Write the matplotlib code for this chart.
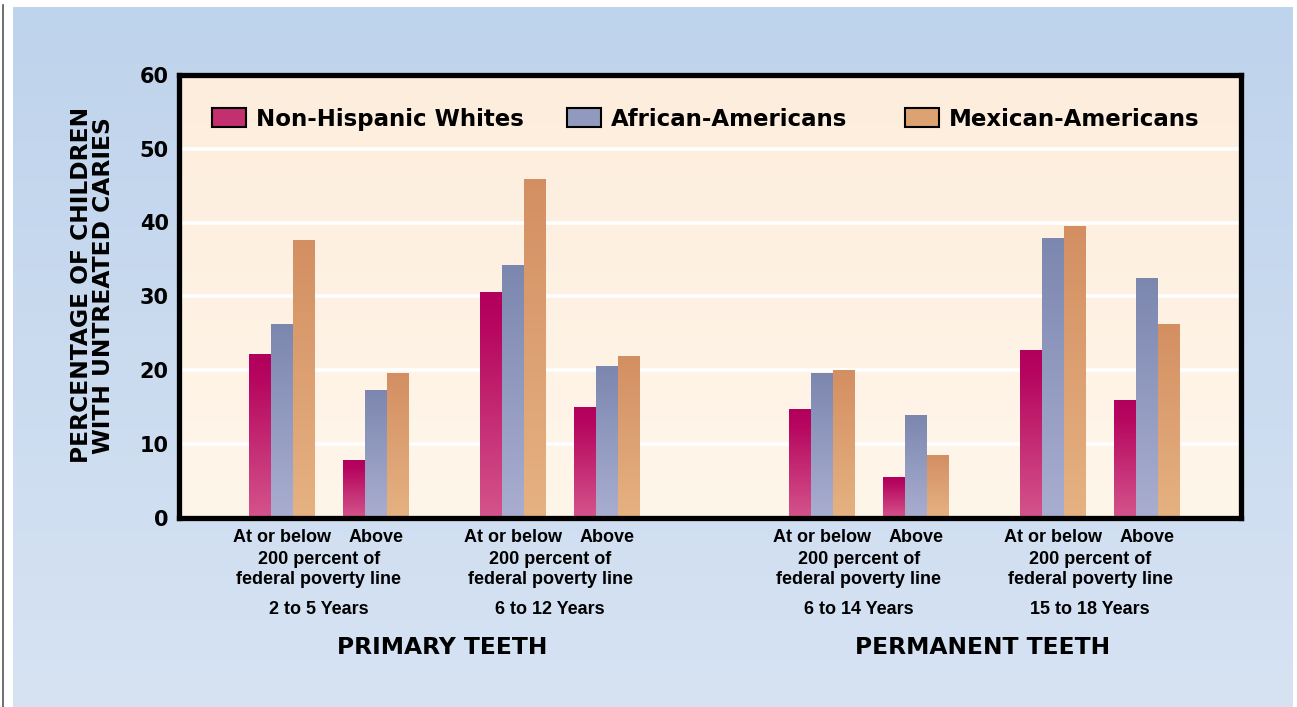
import numpy as np
import matplotlib.pyplot as plt
from matplotlib.colors import LinearSegmentedColormap
from matplotlib.patches import Rectangle
from matplotlib.lines import Line2D

W, H = 1297, 707

# data (percent of children with untreated caries)
series = ['Non-Hispanic Whites', 'African-Americans', 'Mexican-Americans']
nhw = [22.1, 7.6, 30.4, 14.9, 14.6, 5.3, 22.6, 15.8]
aa = [26.1, 17.1, 34.1, 20.4, 19.4, 13.7, 37.8, 32.3]
ma = [37.5, 19.4, 45.7, 21.8, 19.8, 8.4, 39.4, 26.1]
income = ['At or below', 'Above']
ages = ['2 to 5 Years', '6 to 12 Years', '6 to 14 Years', '15 to 18 Years']
teeth = ['PRIMARY TEETH', 'PERMANENT TEETH']
yticks = [0, 10, 20, 30, 40, 50, 60]

# gradients (top colour -> bottom colour)
bar_cmaps = [
    LinearSegmentedColormap.from_list('nhw', [(0, '#B2005D'), (0.15, '#B6065F'), (1, '#D4548B')]),
    LinearSegmentedColormap.from_list('aa', ['#7C87AF', '#A9AED0']),
    LinearSegmentedColormap.from_list('ma', ['#D38F62', '#E6B282']),
]
legend_colors = ['#C3306F', '#9199BE', '#DDA272']

fig = plt.figure(figsize=(W / 100, H / 100), dpi=100)
fig.patch.set_facecolor('white')


def px(x0, y0, x1, y1):
    return [x0 / W, 1 - y1 / H, (x1 - x0) / W, (y1 - y0) / H]


grad = np.linspace(0, 1, 256).reshape(-1, 1)

# blue panel behind everything
bg = fig.add_axes(px(13, 7, 1293, 707))
bg.imshow(grad, aspect='auto', cmap=LinearSegmentedColormap.from_list('bg', ['#BED3EC', '#D7E3F3']))
bg.axis('off')
fig.add_artist(Line2D([2.5 / W, 2.5 / W], [0, 1 - 5 / H], color='#555555', lw=1.2))

ax = fig.add_axes(px(178.5, 75, 1241, 517.5))
xmax = 1241 - 178.5

# cluster layout (x units = pixels inside the axes)
bw = 22
pair = 94
step = 231
gap = 78
starts = [103.5, 103.5 + step, 103.5 + 2 * step + gap, 103.5 + 3 * step + gap]
centers = []
for s in starts:
    centers += [s, s + pair]
centers = np.array(centers)

# plot area background
ax.imshow(grad, extent=[0, xmax, 0, 60], aspect='auto', zorder=0,
          cmap=LinearSegmentedColormap.from_list('pbg', ['#FDEDDC', '#FFF6EA']))
for y in yticks[1:-1]:
    ax.axhline(y, color='white', lw=2.6, zorder=1)

for si, vals in enumerate([nhw, aa, ma]):
    xs = centers + (si - 1) * bw
    bars = ax.bar(xs, vals, width=bw, color='none', lw=0, zorder=2)
    for b in bars:
        x0 = b.get_x()
        ax.imshow(grad, extent=[x0, x0 + b.get_width(), 0, b.get_height()],
                  aspect='auto', cmap=bar_cmaps[si], zorder=2)

ax.set_xlim(0, xmax)
ax.set_ylim(0, 60)

for sp in ax.spines.values():
    sp.set_linewidth(3.8)
    sp.set_color('black')
    sp.set_zorder(5)

ax.set_yticks(yticks)
ax.set_yticklabels([str(t) for t in yticks], fontsize=15, fontweight='bold', family='DejaVu Sans')
ax.tick_params(axis='y', length=0, pad=7)

ax.set_xticks(centers)
ax.set_xticklabels(income * 4, fontsize=13, fontweight='bold', family='Liberation Sans')
ax.tick_params(axis='x', length=0, pad=8)

# second-level labels under each pair
txt = dict(fontsize=13, fontweight='bold', family='Liberation Sans', ha='center', va='center',
           xycoords=('data', 'axes fraction'), textcoords='offset pixels', annotation_clip=False)
for gi, s in enumerate(starts):
    mid = s + pair / 2
    ax.annotate('200 percent of', (mid, 0), xytext=(-10, -41.5), **txt)
    ax.annotate('federal poverty line', (mid, 0), xytext=(-10, -62.5), **txt)
    ax.annotate(ages[gi], (mid, 0), xytext=(-10, -91.5), **txt)

for ti in range(2):
    mid = (starts[2 * ti] + starts[2 * ti + 1] + pair) / 2
    ax.annotate(teeth[ti], (mid, 0), xytext=(-2, -129.5), xycoords=('data', 'axes fraction'),
                textcoords='offset pixels', ha='center', va='center', fontsize=16.8,
                fontweight='bold', family='DejaVu Sans', annotation_clip=False)

ax.text(-0.081, 0.525, 'PERCENTAGE OF CHILDREN\nWITH UNTREATED CARIES', transform=ax.transAxes,
        rotation=90, ha='center', va='center', multialignment='center', fontsize=16.8,
        fontweight='bold', family='DejaVu Sans', linespacing=0.98)

# legend drawn by hand
leg_box_x = [212, 567, 905]
for li, name in enumerate(series):
    x0 = (leg_box_x[li] - 178.5) / xmax
    ax.add_patch(Rectangle((x0, 1 - (127 - 75) / 442.5), 34 / xmax, 19 / 442.5,
                           transform=ax.transAxes, facecolor=legend_colors[li],
                           edgecolor='black', lw=1.5, zorder=6))
    ax.text(x0 + 44 / xmax, 1 - (126 - 75) / 442.5, name, transform=ax.transAxes,
            ha='left', va='baseline', fontsize=16.5, fontweight='bold', family='DejaVu Sans', zorder=6)

fig.savefig('out.png', dpi=100)
